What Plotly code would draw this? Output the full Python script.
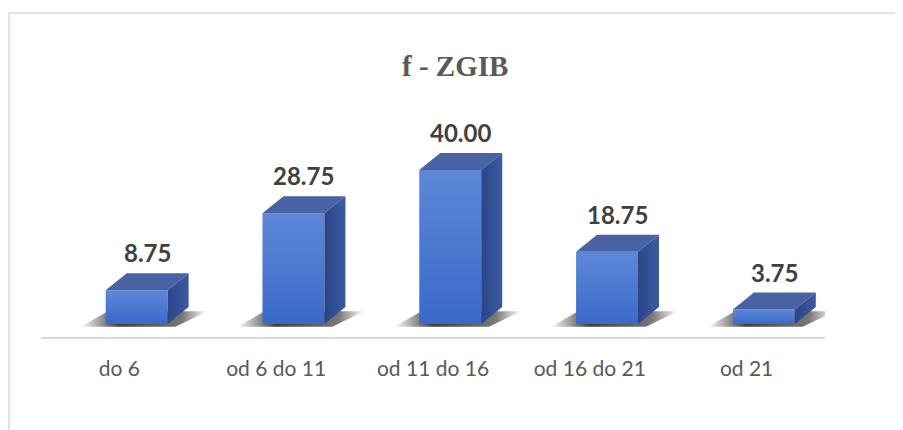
import plotly.graph_objects as go

# data
categories = ["do 6", "od 6 do 11", "od 11 do 16", "od 16 do 21", "od 21"]
values = [8.75, 28.75, 40.00, 18.75, 3.75]
value_labels = ["8.75", "28.75", "40.00", "18.75", "3.75"]
chart_title = "f - ZGIB"

# fake 3D box geometry (category units / value units)
SHIFT = 0.11   # front face sits a bit right of the category centre
W = 0.395      # front face width
DX = 0.134     # depth, horizontal
DY = 4.4       # depth, vertical

FRONT = [[0, "#3b69c9"], [1, "#5d88d8"]]
TOP = "#4862a3"
SIDE = [[0, "#2a4586"], [1, "#3b5ba3"]]
SHADOW = [[0, "rgba(30,30,30,0)"], [0.3, "rgba(30,30,30,0.85)"],
          [0.8, "rgba(30,30,30,0.6)"], [1, "rgba(30,30,30,0)"]]

fig = go.Figure()
poly = dict(fill="toself", mode="lines", line=dict(width=0),
            hoverinfo="skip", showlegend=False)

for i, v in enumerate(values):
    x0 = i + SHIFT - W / 2
    x1 = x0 + W
    # soft shadow on the floor
    fig.add_trace(go.Scatter(
        x=[x0 - 0.16, x1 + 0.05, x1 + DX + 0.12, x0 + DX - 0.12, x0 - 0.16],
        y=[-0.7, -0.7, DY * 0.75, DY * 0.75, -0.7],
        fillgradient=dict(type="horizontal", colorscale=SHADOW), **poly))
    # front face
    fig.add_trace(go.Scatter(
        x=[x0, x1, x1, x0, x0], y=[0, 0, v, v, 0],
        fillgradient=dict(type="vertical", colorscale=FRONT), **poly))
    # side face
    fig.add_trace(go.Scatter(
        x=[x1, x1 + DX, x1 + DX, x1, x1], y=[0, DY, v + DY, v, 0],
        fillgradient=dict(type="horizontal", colorscale=SIDE), **poly))
    # top face
    fig.add_trace(go.Scatter(
        x=[x0, x1, x1 + DX, x0 + DX, x0], y=[v, v, v + DY, v + DY, v],
        fillcolor=TOP, **poly))
    fig.add_annotation(
        x=i + SHIFT + DX / 2, y=v + DY, text=f"<b>{value_labels[i]}</b>",
        showarrow=False, yanchor="bottom", yshift=4,
        font=dict(family="Lato", size=24, color="#404040"))

fig.add_annotation(
    text=f"<b>{chart_title}</b>", xref="paper", yref="paper",
    x=(455 - 41) / 784, y=1 + (100 - 66) / 237, yanchor="middle",
    showarrow=False,
    font=dict(family="Liberation Serif", size=29, color="#595959"))

# outer chart border (runs off the right and bottom edges)
fig.add_shape(type="rect", xref="paper", yref="paper",
              x0=-32 / 784, x1=1.2, y0=-0.5, y1=1 + 87 / 237,
              line=dict(color="#d9d9d9", width=1.5), layer="below")

fig.update_xaxes(
    range=[-0.5, 4.5], tickmode="array", tickvals=list(range(len(categories))),
    ticktext=categories, showgrid=False, zeroline=False,
    showline=True, linecolor="#d9d9d9", linewidth=2,
    ticklabelstandoff=12,
    tickfont=dict(family="Lato", size=21, color="#595959"))
fig.update_yaxes(range=[-13 / 3.85, 224 / 3.85], visible=False)

# page has an 8px body margin, so the figure is placed at (8, 8)
fig.update_layout(
    width=895, height=422,
    margin=dict(l=33, r=78, t=92, b=93),
    paper_bgcolor="white", plot_bgcolor="white",
    showlegend=False)

fig.write_html("out.html")
